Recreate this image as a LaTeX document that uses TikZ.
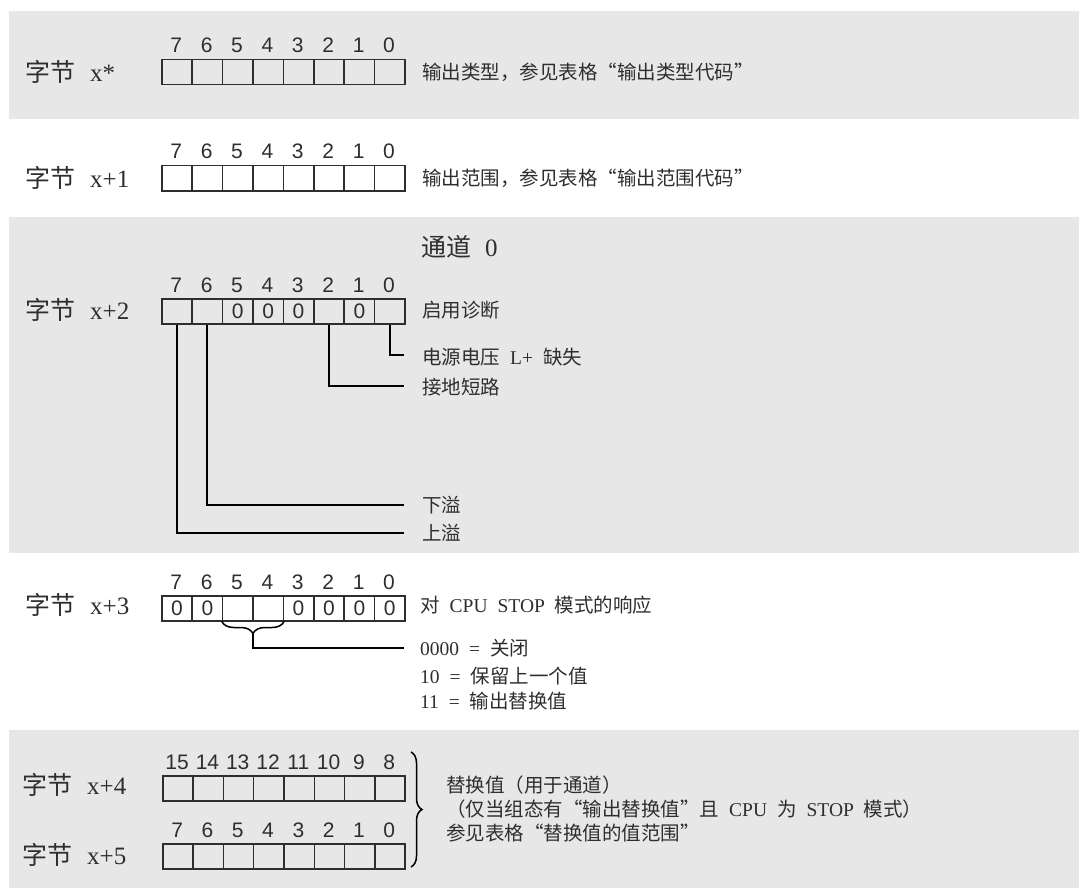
\documentclass[tikz,border=0pt]{standalone}
\usepackage{fontspec}
\setmainfont{Liberation Serif}
\newfontfamily\cjk{Noto Sans CJK SC}
\newfontfamily\digf{Liberation Sans}
\usetikzlibrary{calc,decorations.pathreplacing}
\definecolor{band}{HTML}{E7E7E7}
\definecolor{ink}{HTML}{2E2E2E}
\newcommand\gap{\hspace{10pt}}
\tikzset{
  cell/.style={draw=ink, line width=1.5pt, minimum height=25pt, inner sep=0pt,
    anchor=north west, font=\digf\fontsize{21}{21}\selectfont, text=ink},
  bitnum/.style={anchor=base, inner sep=0pt, font=\digf\fontsize{21}{21}\selectfont, text=ink},
  bytelabel/.style={anchor=west, inner sep=0pt, font=\fontsize{25}{25}\selectfont, text=ink},
  desc/.style={anchor=west, inner sep=0pt, font=\fontsize{19.5}{19.5}\selectfont, text=ink},
  conn/.style={line width=1.8pt, draw=black},
}
% #1 prefix, #2 x0, #3 top, #4 contents (bits high..low), #5 bit offset, #6 cell width
\newcommand\bytecells[6]{%
  \foreach \c [count=\i from 0] in {#4} {%
    \pgfmathtruncatemacro\bb{7-\i+#5}%
    \node[cell, minimum width=#6pt] (#1b\bb) at ({#2+#6*\i},#3) {\c};%
    \node[bitnum] (#1n\bb) at ({#2+#6*\i+#6/2},{#3-6}) {\bb};%
  }%
}
\begin{document}
\begin{tikzpicture}[x=1pt,y=-1pt]
\useasboundingbox (0,0) rectangle (1079,888);
\fill[band] (9,11) rectangle (1079,119);
\fill[band] (9,217) rectangle (1079,553);
\fill[band] (9,730) rectangle (1079,888);

% Byte x*
\node[bytelabel] (la) at (25,72) {{\cjk 字节}\hspace{15pt}x*};
\bytecells{a}{161}{59}{{},{},{},{},{},{},{},{}}{0}{30.4}
\node[desc] (da) at (422,72) {\cjk 输出类型，参见表格“输出类型代码”};

% Byte x+1
\node[bytelabel] (lb) at (25,178) {{\cjk 字节}\hspace{15pt}x+1};
\bytecells{b}{161}{165}{{},{},{},{},{},{},{},{}}{0}{30.4}
\node[desc] (db) at (422,178) {\cjk 输出范围，参见表格“输出范围代码”};

% Byte x+2
\node[bytelabel] (ch) at (421,247) {{\cjk 通道}\hspace{14pt}0};
\node[bytelabel] (lc) at (25,310) {{\cjk 字节}\hspace{15pt}x+2};
\bytecells{c}{161}{298}{{},{},0,0,0,{},0,{}}{0}{30.4}
\node[desc] (dc) at (422,310) {\cjk 启用诊断};
\coordinate (e0) at (404,355);
\coordinate (e2) at (404,386);
\coordinate (e6) at (404,505);
\coordinate (e7) at (404,533);
\draw[conn] (cb0.south) |- (e0);
\draw[conn] (cb2.south) |- (e2);
\draw[conn] (cb6.south) |- (e6);
\draw[conn] (cb7.south) |- (e7);
\node[desc] (t0) at (422,357) {{\cjk 电源电压}\gap L+\gap{\cjk 缺失}};
\node[desc] (t2) at (422,387) {\cjk 接地短路};
\node[desc] (t6) at (422,505) {\cjk 下溢};
\node[desc] (t7) at (422,533) {\cjk 上溢};

% Byte x+3
\node[bytelabel] (ld) at (25,605) {{\cjk 字节}\hspace{15pt}x+3};
\bytecells{d}{161}{595}{0,0,{},{},0,0,0,0}{0}{30.4}
\node[desc] (dd) at (420,605) {{\cjk 对}\gap CPU\gap STOP\gap{\cjk 模式的响应}};
\draw[line width=1.5pt, decorate, decoration={brace, amplitude=12pt, mirror}]
  (db5.south west) -- (db4.south east);
\coordinate (bt) at ($(db5.south west)!0.5!(db4.south east)+(0,12)$);
\coordinate (e3) at (404,648);
\draw[conn] (bt) |- (e3);
\node[desc] (m0) at (420,648) {0000\gap=\gap{\cjk 关闭}};
\node[desc] (m1) at (420,676) {10\gap=\gap{\cjk 保留上一个值}};
\node[desc] (m2) at (420,701) {11\gap=\gap{\cjk 输出替换值}};

% Bytes x+4, x+5
\node[bytelabel] (le) at (22,785) {{\cjk 字节}\hspace{15pt}x+4};
\bytecells{e}{162}{775}{{},{},{},{},{},{},{},{}}{8}{30.3}
\node[bytelabel] (lf) at (22,855) {{\cjk 字节}\hspace{15pt}x+5};
\bytecells{f}{162}{843}{{},{},{},{},{},{},{},{}}{0}{30.3}
\draw[line width=1.5pt, decorate, decoration={brace, amplitude=11pt}]
  (411,752) -- (411,867);
\node[desc] (r1) at (446,785) {\cjk 替换值（用于通道）};
\node[desc] (r2) at (446,809) {{\cjk （仅当组态有“输出替换值”且}\gap CPU\gap{\cjk 为}\gap STOP\gap{\cjk 模式）}};
\node[desc] (r3) at (446,833) {\cjk 参见表格“替换值的值范围”};
\end{tikzpicture}
\end{document}
